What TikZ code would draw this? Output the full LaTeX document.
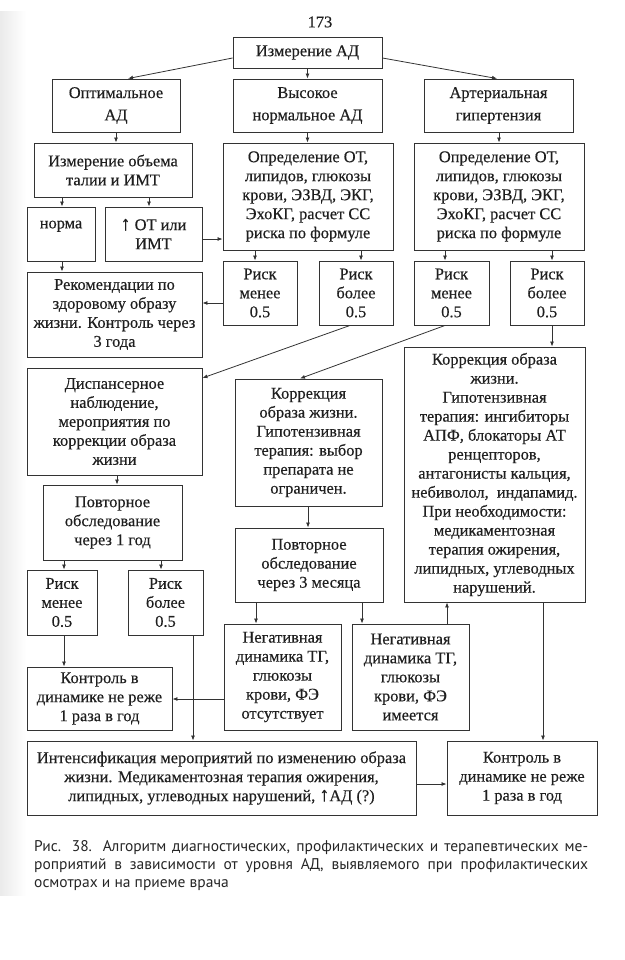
\documentclass[tikz,border=0pt]{standalone}
\usepackage{fontspec}
\setmainfont{Liberation Serif}[FakeBold=0.35]
\newfontfamily\capfont{PT Sans}
\newcommand{\uparr}{{\fontsize{20}{19}\selectfont ↑}}
\usetikzlibrary{arrows.meta}
\tikzset{
  box/.style={draw=black!80, line width=0.9pt, inner sep=0pt, align=center,
    font=\fontsize{16.4}{19}\selectfont, text=black!88},
  topbox/.style={box, font=\fontsize{16.4}{22.3}\selectfont},
  arr/.style={draw=black!80, line width=0.8pt, -{Latex[length=5pt,width=4pt]}},
}
\begin{document}
\begin{tikzpicture}[x=1pt,y=-1pt]
\useasboundingbox (0,0) rectangle (624,960);
\shade[left color=black!8, right color=white] (0,12) rectangle (26,895);

\node[font=\fontsize{16.4}{19}\selectfont, text=black!88] (pg) at (320,22) {173};

\node[box, minimum width=149pt, minimum height=31pt] (izm) at (307.5,52.5) {Измерение АД};

\node[topbox, minimum width=128pt, minimum height=53pt] (opt) at (116,105.5) {Оптимальное\\АД};
\node[topbox, minimum width=149pt, minimum height=53pt] (vys) at (307.5,105.5) {Высокое\\нормальное АД};
\node[topbox, minimum width=149pt, minimum height=53pt] (art) at (498.5,105.5) {Артериальная\\гипертензия};

\node[box, minimum width=158pt, minimum height=54pt] (ob) at (113,170) {Измерение объема\\талии и ИМТ};
\node[box, minimum width=170pt, minimum height=107pt] (opr1) at (308,196.5) {Определение ОТ,\\липидов, глюкозы\\крови, ЭЗВД, ЭКГ,\\ЭхоКГ, расчет СС\\риска по формуле};
\node[box, minimum width=170pt, minimum height=107pt] (opr2) at (499,196.5) {Определение ОТ,\\липидов, глюкозы\\крови, ЭЗВД, ЭКГ,\\ЭхоКГ, расчет СС\\риска по формуле};

\node[box, minimum width=68pt, minimum height=54pt] (norma) at (61,234) {норма\\\mbox{}};
\node[box, minimum width=97pt, minimum height=54pt] (ot) at (153.5,234) {\uparr\ ОТ или\\ИМТ};

\node[box, minimum width=175pt, minimum height=85pt] (rek) at (114.5,314.5) {Рекомендации по\\здоровому образу\\жизни. Контроль через\\3 года};

\node[box, minimum width=74pt, minimum height=64pt] (r1) at (260,293) {Риск\\менее\\0.5};
\node[box, minimum width=74pt, minimum height=64pt] (r2) at (356,293) {Риск\\более\\0.5};
\node[box, minimum width=75pt, minimum height=64pt] (r3) at (451.5,293) {Риск\\менее\\0.5};
\node[box, minimum width=74pt, minimum height=64pt] (r4) at (547,293) {Риск\\более\\0.5};

\node[box, minimum width=175pt, minimum height=107pt] (disp) at (114.5,421.5) {Диспансерное\\наблюдение,\\мероприятия по\\коррекции образа\\жизни};
\node[box, minimum width=147pt, minimum height=127pt] (korm) at (308.5,442.5) {Коррекция\\образа жизни.\\Гипотензивная\\терапия: выбор\\препарата не\\ограничен.};
\node[box, minimum width=181pt, minimum height=255pt] (korr) at (494.5,474.5) {Коррекция образа\\жизни.\\Гипотензивная\\терапия: ингибиторы\\АПФ, блокаторы АТ\\ренцепторов,\\антагонисты кальция,\\небиволол,\ \ индапамид.\\При необходимости:\\медикаментозная\\терапия ожирения,\\липидных, углеводных\\нарушений.};

\node[box, minimum width=139pt, minimum height=75pt] (p1) at (112.5,522.5) {Повторное\\обследование\\через 1 год};
\node[box, minimum width=148pt, minimum height=74pt] (p3) at (309,565) {Повторное\\обследование\\через 3 месяца};

\node[box, minimum width=70pt, minimum height=65pt] (r5) at (62,602.5) {Риск\\менее\\0.5};
\node[box, minimum width=75pt, minimum height=65pt] (r6) at (165.5,602.5) {Риск\\более\\0.5};

\node[box, minimum width=145pt, minimum height=63pt] (kl) at (99.5,698.5) {Контроль в\\динамике не реже\\1 раза в год};
\node[box, minimum width=117pt, minimum height=106pt] (n1) at (282.5,677) {Негативная\\динамика ТГ,\\глюкозы\\крови, ФЭ\\отсутствует};
\node[box, minimum width=117pt, minimum height=106pt] (n2) at (410.5,677) {Негативная\\динамика ТГ,\\глюкозы\\крови, ФЭ\\имеется};

\node[box, minimum width=389pt, minimum height=74pt] (int) at (221.5,778) {Интенсификация мероприятий по изменению образа\\жизни. Медикаментозная терапия ожирения,\\липидных, углеводных нарушений, \uparr АД (?)};
\node[box, minimum width=150pt, minimum height=74pt] (kr) at (522,778) {Контроль в\\динамике не реже\\1 раза в год};

\node[anchor=north west, inner sep=0pt, align=left, text=black!85,
  font=\capfont\fontsize{15.5}{18}\selectfont] (cap) at (34,840)
  {\makebox[554pt][s]{Рис. 38. Алгоритм диагностических, профилактических и терапевтических ме-}\\
   \makebox[554pt][s]{роприятий в зависимости от уровня АД, выявляемого при профилактических}\\
   осмотрах и на приеме врача};

% connectors
\draw[arr] (izm.west |- 0,58) -- (128,0 |- opt.north);
\draw[arr] (307.5,0 |- izm.south) -- (307.5,0 |- vys.north);
\draw[arr] (izm.east |- 0,58) -- (497,0 |- art.north);
\draw[arr] (116,0 |- opt.south) -- (116,0 |- ob.north);
\draw[arr] (307.5,0 |- vys.south) -- (307.5,0 |- opr1.north);
\draw[arr] (499,0 |- art.south) -- (499,0 |- opr2.north);
\draw[arr] (62,0 |- ob.south) -- (62,0 |- norma.north);
\draw[arr] (149,0 |- ob.south) -- (149,0 |- ot.north);
\draw[arr] (ot.east |- 0,239) -- (opr1.west |- 0,239);
\draw[arr] (62,0 |- norma.south) -- (62,0 |- rek.north);
\draw[arr] (255,0 |- opr1.south) -- (255,0 |- r1.north);
\draw[arr] (361,0 |- opr1.south) -- (361,0 |- r2.north);
\draw[arr] (445,0 |- opr2.south) -- (445,0 |- r3.north);
\draw[arr] (552,0 |- opr2.south) -- (552,0 |- r4.north);
\draw[arr] (r1.west |- 0,303) -- (rek.east |- 0,303);
\draw[arr] (350,0 |- r2.south) -- (disp.east |- 0,378);
\draw[arr] (445,0 |- r3.south) -- (300,0 |- korm.north);
\draw[arr] (552,0 |- r4.south) -- (552,0 |- korr.north);
\draw[arr] (117,0 |- disp.south) -- (117,0 |- p1.north);
\draw[arr] (308,0 |- korm.south) -- (308,0 |- p3.north);
\draw[arr] (64,0 |- p1.south) -- (64,0 |- r5.north);
\draw[arr] (161,0 |- p1.south) -- (161,0 |- r6.north);
\draw[arr] (256,0 |- p3.south) -- (256,0 |- n1.north);
\draw[arr] (362,0 |- p3.south) -- (362,0 |- n2.north);
\draw[arr] (447,0 |- n2.north) -- (447,0 |- korr.south);
\draw[arr] (64,0 |- r5.south) -- (64,0 |- kl.north);
\draw[arr] (n1.west |- 0,699) -- (kl.east |- 0,699);
\draw[arr] (193,0 |- r6.south) -- (193,0 |- int.north);
\draw[arr] (543,0 |- korr.south) -- (543,0 |- kr.north);
\draw[arr] (int.east |- 0,784) -- (kr.west |- 0,784);
\end{tikzpicture}
\end{document}
